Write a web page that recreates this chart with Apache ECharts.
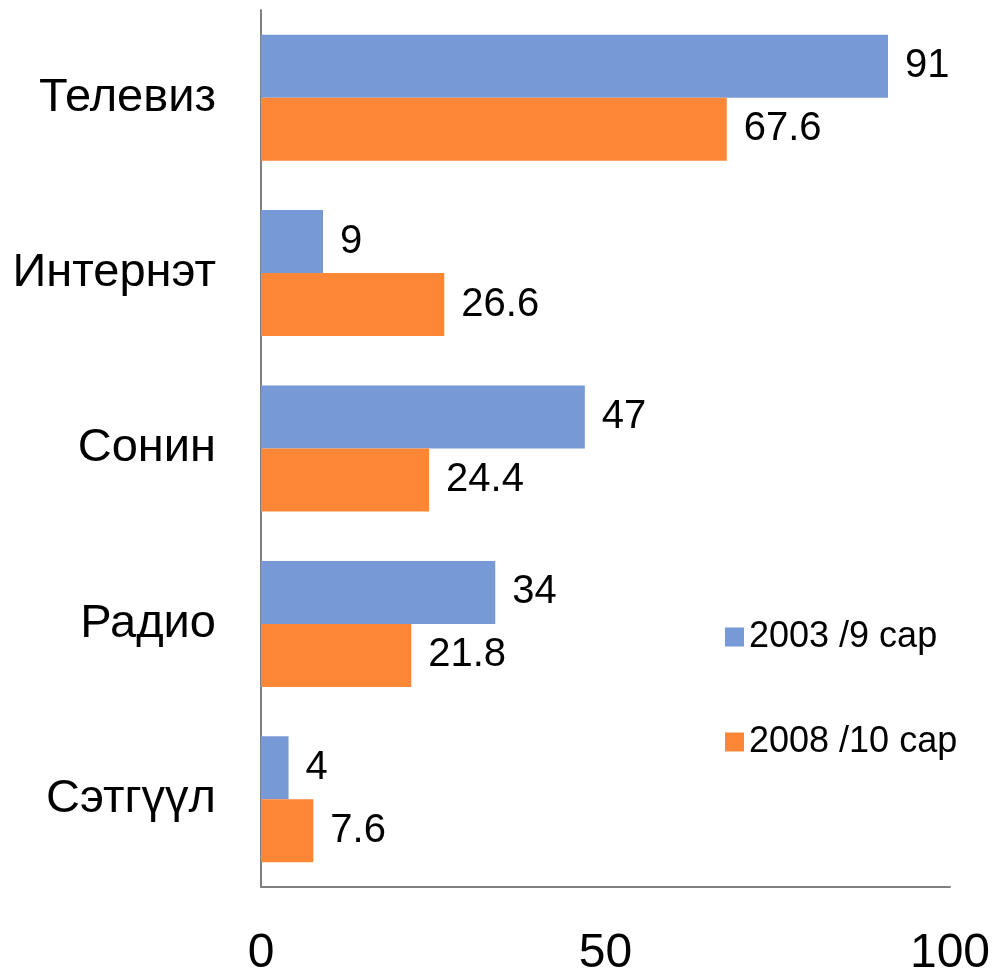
<!DOCTYPE html>
<html>
<head>
<meta charset="utf-8">
<script src="https://cdn.jsdelivr.net/npm/echarts@6/dist/echarts.min.js"></script>
<style>
  html, body { margin: 0; padding: 0; background: #fff; }
  #main { width: 994px; height: 978px; }
</style>
</head>
<body>
<div id="main"></div>
<script>
// categories, top to bottom
var categories = ['Телевиз', 'Интернэт', 'Сонин', 'Радио', 'Сэтгүүл'];
var series2003 = [91, 9, 47, 34, 4];
var series2008 = [67.6, 26.6, 24.4, 21.8, 7.6];
var seriesNames = ['2003 /9 сар', '2008 /10 сар'];
var xTicks = [0, 50, 100];

var font = 'Liberation Sans, Arial, sans-serif';
var chart = echarts.init(document.getElementById('main'));

chart.setOption({
  animation: false,
  color: ['#7799D6', '#FE8637'],
  grid: { left: 261, top: 10, right: 44, bottom: 90 },
  legend: {
    orient: 'vertical',
    left: 720,
    top: 614,
    itemGap: 69,
    itemWidth: 19,
    itemHeight: 19,
    icon: 'rect',
    data: seriesNames,
    textStyle: { fontFamily: font, fontSize: 36, color: '#000' }
  },
  xAxis: {
    type: 'value',
    min: xTicks[0],
    max: xTicks[xTicks.length - 1],
    interval: 50,
    axisLine: { show: true, lineStyle: { color: '#808080', width: 2 } },
    axisTick: { show: false },
    splitLine: { show: false },
    axisLabel: { fontFamily: font, fontSize: 48, color: '#000', margin: 43 }
  },
  yAxis: {
    type: 'category',
    inverse: true,
    data: categories,
    axisLine: { show: true, lineStyle: { color: '#808080', width: 2 } },
    axisTick: { show: false },
    axisLabel: { fontFamily: font, fontSize: 47, color: '#000', margin: 45 }
  },
  series: [
    {
      name: seriesNames[0],
      type: 'bar',
      data: series2003,
      barWidth: 63,
      barGap: '0%',
      label: { show: true, position: 'right', distance: 17, fontFamily: font, fontSize: 40, color: '#000' }
    },
    {
      name: seriesNames[1],
      type: 'bar',
      data: series2008,
      barWidth: 63,
      barGap: '0%',
      label: { show: true, position: 'right', distance: 17, fontFamily: font, fontSize: 40, color: '#000' }
    }
  ]
});
</script>
</body>
</html>
